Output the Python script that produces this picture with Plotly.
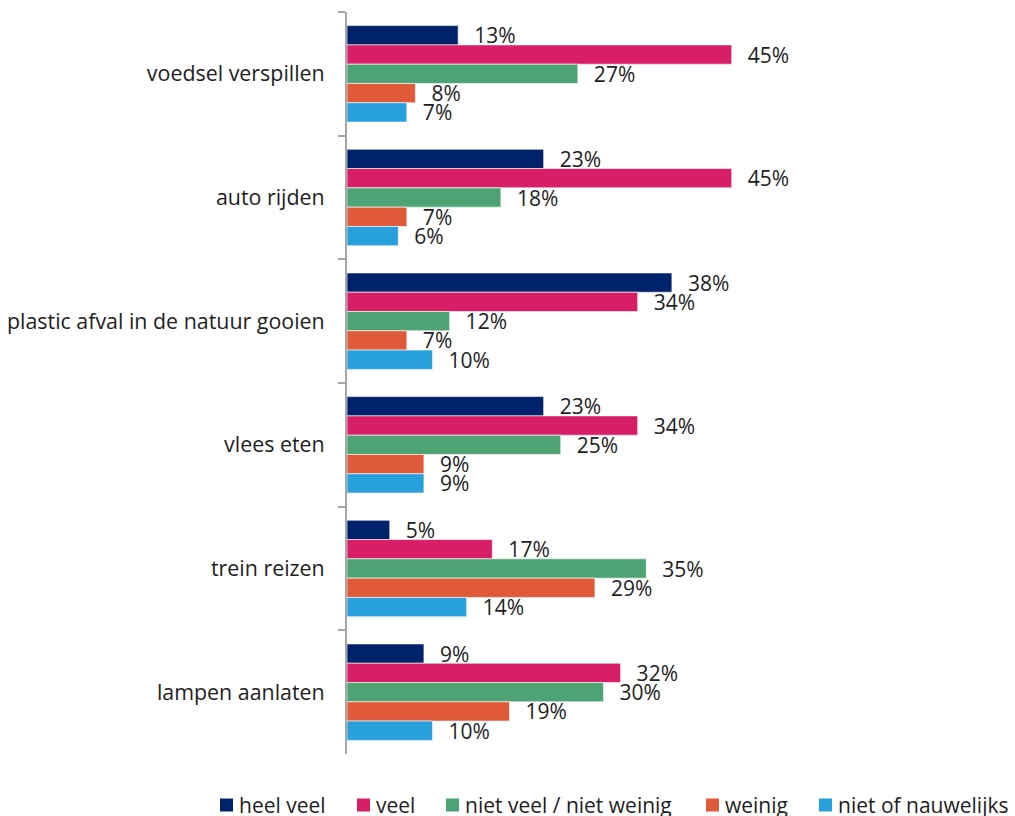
import plotly.graph_objects as go

categories = [
    "voedsel verspillen",
    "auto rijden",
    "plastic afval in de natuur gooien",
    "vlees eten",
    "trein reizen",
    "lampen aanlaten",
]
series_names = ["heel veel", "veel", "niet veel / niet weinig", "weinig", "niet of nauwelijks"]
heel_veel = [13, 23, 38, 23, 5, 9]
veel = [45, 45, 34, 34, 17, 32]
niet_veel_niet_weinig = [27, 18, 12, 25, 35, 30]
weinig = [8, 7, 7, 9, 29, 19]
niet_of_nauwelijks = [7, 6, 10, 9, 14, 10]
series_values = [heel_veel, veel, niet_veel_niet_weinig, weinig, niet_of_nauwelijks]
colors = ["#00226B", "#D81E66", "#4DA373", "#E05A3A", "#28A0DC"]

FONT = "Open Sans, Noto Sans, sans-serif"
TEXT_COLOR = "#1E1E1E"
FS = 21

W, H = 1015, 816
L, R, T, B = 347, 30, 12, 62
px_per_pct = 8.55
plot_w = W - L - R
plot_h = H - T - B
x_max = plot_w / px_per_pct

fig = go.Figure()
for name, vals, col in zip(series_names, series_values, colors):
    fig.add_trace(go.Bar(
        name=name,
        y=categories,
        x=vals,
        orientation="h",
        marker=dict(color=col, line=dict(color="white", width=0.6)),
        text=["\u00a0\u00a0\u200a" + f"{v}%" for v in vals],
        textposition="outside",
        textfont=dict(family=FONT, size=FS, color=TEXT_COLOR),
        constraintext="none",
        cliponaxis=False,
        hoverinfo="skip",
        showlegend=False,
    ))

# Legend row below the plot: colour squares with their series names
legend_left_px = [220, 357, 446, 706, 819]
legend_mid_px = 805
sq = 13


def px_to_paper_x(px):
    return (px - L) / plot_w


def px_to_paper_y(py):
    return (H - B - py) / plot_h


for name, col, lx in zip(series_names, colors, legend_left_px):
    fig.add_shape(
        type="rect",
        xref="paper", yref="paper",
        x0=px_to_paper_x(lx), x1=px_to_paper_x(lx + sq),
        y0=px_to_paper_y(legend_mid_px + sq / 2), y1=px_to_paper_y(legend_mid_px - sq / 2),
        fillcolor=col, line=dict(width=0),
    )
    fig.add_annotation(
        xref="paper", yref="paper",
        x=px_to_paper_x(lx + sq + 4), y=px_to_paper_y(legend_mid_px),
        xanchor="left", yanchor="middle",
        text=name, showarrow=False,
        font=dict(family=FONT, size=FS, color=TEXT_COLOR),
    )

fig.update_layout(
    width=W,
    height=H,
    barmode="group",
    bargap=0.22,
    bargroupgap=0,
    plot_bgcolor="white",
    paper_bgcolor="white",
    margin=dict(l=L, r=R, t=T, b=B, pad=0, autoexpand=False),
    font=dict(family=FONT, size=FS, color=TEXT_COLOR),
    showlegend=False,
    xaxis=dict(
        range=[0, x_max],
        showgrid=False,
        zeroline=False,
        showline=False,
        showticklabels=False,
        ticks="",
        automargin=False,
    ),
    yaxis=dict(
        range=[5.5, -0.5],
        showgrid=False,
        zeroline=False,
        showline=True,
        linecolor="#A6A6A6",
        linewidth=2,
        ticks="outside",
        tickson="boundaries",
        ticklen=7,
        tickcolor="#A6A6A6",
        tickwidth=2,
        tickfont=dict(family=FONT, size=21.4, color=TEXT_COLOR),
        ticklabelstandoff=16,
        automargin=False,
    ),
)

fig.write_html("out.html")
